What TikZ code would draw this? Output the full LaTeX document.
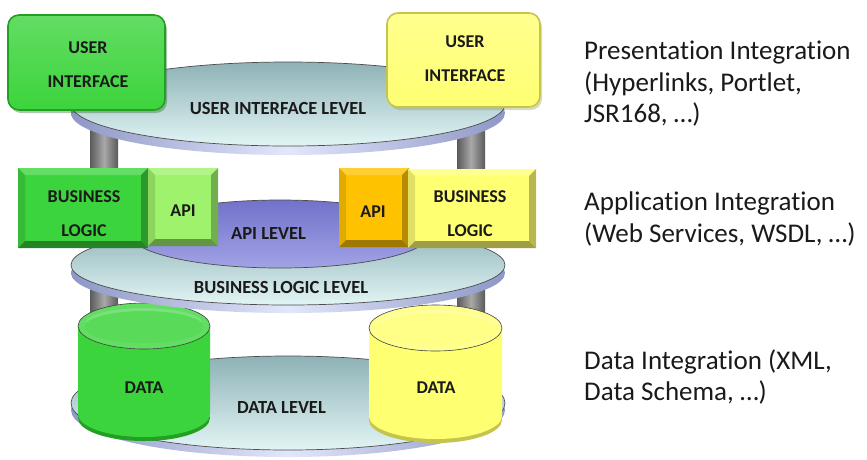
\documentclass[tikz,border=0pt]{standalone}
\usepackage{fontspec}
\setmainfont{Carlito}[RawFeature=-liga]

\definecolor{grnA}{HTML}{3CD43C}
\definecolor{grnD}{HTML}{23A023}
\definecolor{grnL}{HTML}{9EF26C}
\definecolor{yelA}{HTML}{FFFF72}
\definecolor{yelD}{HTML}{C4C44E}
\definecolor{orA}{HTML}{FFC200}
\definecolor{discT}{HTML}{8EB2B6}
\definecolor{discB}{HTML}{E2F5F5}
\definecolor{rimD}{HTML}{8E97C6}
\definecolor{rimL}{HTML}{E2E7FA}
\definecolor{purT}{HTML}{7272CA}
\definecolor{purB}{HTML}{A2A2E6}
\definecolor{poleD}{HTML}{5A5A5A}
\definecolor{poleL}{HTML}{A8A8A8}
\definecolor{txt}{HTML}{1A1A1A}

% bevelled block: x1, y1, x2, y2, colour
\newcommand\bevbox[5]{%
  \fill[#5] (#1,#2) rectangle (#3,#4);
  \fill[#5!80!white] (#1,#2) -- (#3,#2) -- (#3-7,#2+7) -- (#1+7,#2+7) -- cycle;
  \fill[#5!88!black] (#1,#2) -- (#1+7,#2+7) -- (#1+7,#4-7) -- (#1,#4) -- cycle;
  \fill[#5!72!black] (#3,#2) -- (#3,#4) -- (#3-7,#4-7) -- (#3-7,#2+7) -- cycle;
  \fill[#5!62!black] (#1,#4) -- (#3,#4) -- (#3-7,#4-7) -- (#1+7,#4-7) -- cycle;
}

% level disc: centre x, centre y, x radius, y radius, rim thickness
\newcommand\levdisc[5]{%
  \shade[left color=rimD, right color=rimD, middle color=rimL]
    (#1,#2+#5) ellipse [x radius=#3, y radius=#4];
  \shade[top color=discT, bottom color=discB, draw=black!70, line width=0.7pt]
    (#1,#2) ellipse [x radius=#3, y radius=#4];
}

% storage cylinder: centre x, top centre y, bottom centre y, x radius, y radius, colour, dark colour
\newcommand\datacyl[7]{%
  \fill[#7] (#1,#3) ellipse [x radius=#4, y radius=#5];
  \fill[#6] (#1-#4,#2) -- (#1-#4,#3-4) arc [start angle=180, end angle=0, x radius=#4, y radius=#5] -- (#1+#4,#2) -- cycle;
  \fill[#6!80!white, draw=black!75, line width=0.6pt] (#1,#2) ellipse [x radius=#4, y radius=#5];
  \fill[#6!68!white] (#1,#2-3) ellipse [x radius=#4-8, y radius=#5-8];
  \fill[#6!85!white] (#1,#2+1) ellipse [x radius=#4-6, y radius=#5-7];
}

\begin{document}
\begin{tikzpicture}[x=1pt, y=-1pt,
  boxlbl/.style={font=\bfseries\fontsize{18}{34}\selectfont, align=center, text=txt, inner sep=0pt},
  levlbl/.style={font=\bfseries\fontsize{18.5}{20}\selectfont, text=txt, inner sep=0pt},
  sidelbl/.style={font=\fontsize{27}{31.5}\selectfont, align=left, anchor=west, text=txt, inner sep=0pt}]
\useasboundingbox (0,0) rectangle (867,459);
\fill[white] (0,0) rectangle (867,459);

% support poles
\foreach \px in {90,457} {
  \shade[left color=poleD, right color=poleD, middle color=poleL] (\px,120) rectangle (\px+28,420);
}

% data level
\levdisc{288}{403}{217}{47}{7}
\node[levlbl] (datalev) at (281.5,407.5) {DATA LEVEL};
\datacyl{144}{326}{418}{66}{23}{grnA}{grnD}
\datacyl{435.5}{328}{420}{66.5}{23}{yelA}{yelD}
\node[boxlbl] (dataL) at (144,388) {DATA};
\node[boxlbl] (dataR) at (436,388) {DATA};

% business logic level with API level on top
\levdisc{288}{265}{217}{40}{8}
\node[levlbl] (bllev) at (281,287.5) {BUSINESS LOGIC LEVEL};
\shade[top color=purT, bottom color=purB, draw=black!70, line width=0.7pt]
  (280,234) ellipse [x radius=150, y radius=34];
\node[levlbl] (apilev) at (268.5,233.5) {API LEVEL};

\bevbox{18}{168}{148}{248}{grnA}
\bevbox{148}{168}{218}{246}{grnL}
\bevbox{339}{168}{409}{247}{orA}
\bevbox{408}{169}{536}{248}{yelA}
\node[boxlbl] (blL) at (84,213.5) {BUSINESS\\LOGIC};
\node[boxlbl] (apiL) at (183,211) {API};
\node[boxlbl] (apiR) at (373,212) {API};
\node[boxlbl] (blR) at (470,213.5) {BUSINESS\\LOGIC};

% user interface level
\levdisc{288}{104}{217}{42}{9}
\node[levlbl] (uilev) at (278,108.5) {USER INTERFACE LEVEL};
\fill[grnD!60!black, opacity=0.35, rounded corners=11pt] (10,18) rectangle (167,113);
\fill[yelD!70!black, opacity=0.3, rounded corners=11pt] (389,16) rectangle (542,110);
\shade[top color=grnA!80!white, bottom color=grnA, draw=grnD, line width=1.6pt, rounded corners=11pt]
  (8,15) rectangle (165,110);
\shade[top color=yelA!80!white, bottom color=yelA, draw=yelD, line width=1.6pt, rounded corners=11pt]
  (387,13) rectangle (540,107);
\node[boxlbl] (uiL) at (88,65) {USER\\INTERFACE};
\node[boxlbl] (uiR) at (465,58.5) {USER\\INTERFACE};

% integration notes
\node[sidelbl] (presint) at (584,84) {Presentation Integration\\(Hyperlinks, Portlet,\\JSR168, \dots)};
\node[sidelbl] (appint) at (584,219) {Application Integration\\(Web Services, WSDL, \dots)};
\node[sidelbl] (dataint) at (584,377) {Data Integration (XML,\\Data Schema, \dots)};
\end{tikzpicture}
\end{document}
